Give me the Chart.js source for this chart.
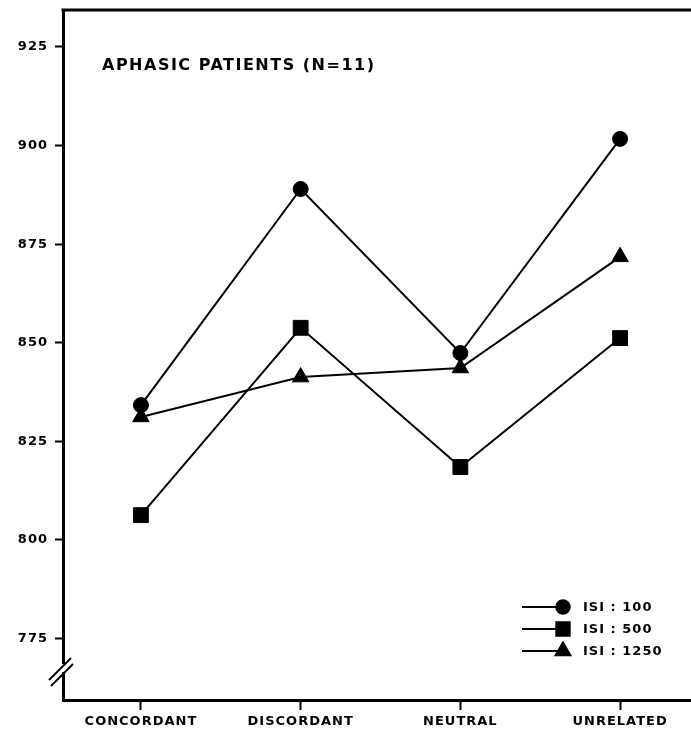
<!DOCTYPE html>
<html>
<head>
<meta charset="utf-8">
<script src="https://cdn.jsdelivr.net/npm/chart.js@4/dist/chart.umd.min.js"></script>
<style>
  html, body { margin: 0; padding: 0; background: #fff; }
  #wrap { width: 691px; height: 738px; }
</style>
</head>
<body>
<div id="wrap"><canvas id="chart"></canvas></div>
<script>
// categories and series (reaction time, ms)
const CATEGORIES = ['CONCORDANT', 'DISCORDANT', 'NEUTRAL', 'UNRELATED'];
const ISI_100 = [834.2, 889, 847.4, 901.7];
const ISI_500 = [806.3, 853.8, 818.5, 851.2];
const ISI_1250 = [831.2, 841.3, 843.6, 871.8];
const Y_TICKS = [775, 800, 825, 850, 875, 900, 925];

const SERIES = [
    { label: 'ISI : 100', data: ISI_100, style: 'circle', radius: 7.5 },
    { label: 'ISI : 500', data: ISI_500, style: 'rect', radius: 10.5 },
    { label: 'ISI : 1250', data: ISI_1250, style: 'triangle', radius: 9.5 }
];

const FONT = 'DejaVu Sans';

/* ── extras: spacing, top rule, title, axis break, legend ── */
const extras = {
    id: 'extras',
    beforeUpdate(chart) { chart.ctx.letterSpacing = '1px'; },
    beforeDraw(chart) { chart.ctx.letterSpacing = '1px'; },
    afterDraw(chart) {
        const ctx = chart.ctx;
        const area = chart.chartArea;
        ctx.save();
        ctx.strokeStyle = '#000';
        ctx.fillStyle = '#000';

        // top border
        ctx.lineWidth = 3;
        ctx.beginPath();
        ctx.moveTo(area.left - 1.5, area.top);
        ctx.lineTo(chart.width, area.top);
        ctx.stroke();

        // title
        ctx.letterSpacing = '1.5px';
        ctx.font = `bold 16px "${FONT}"`;
        ctx.textBaseline = 'alphabetic';
        ctx.textAlign = 'left';
        ctx.fillText('APHASIC PATIENTS (N=11)', 102, 70);

        // axis break //
        ctx.lineWidth = 2;
        ctx.fillStyle = '#fff';
        ctx.fillRect(area.left - 3, 664, 6, 8);
        ctx.beginPath();
        ctx.moveTo(49, 680); ctx.lineTo(71, 658);
        ctx.moveTo(51, 686); ctx.lineTo(73, 664);
        ctx.stroke();

        // legend
        ctx.fillStyle = '#000';
        ctx.letterSpacing = '1px';
        ctx.font = `bold 13px "${FONT}"`;
        ctx.textBaseline = 'middle';
        SERIES.forEach((s, i) => {
            const y = 607 + i * 22;
            ctx.lineWidth = 2;
            ctx.beginPath();
            ctx.moveTo(522, y);
            ctx.lineTo(562, y);
            ctx.stroke();
            Chart.helpers.drawPoint(ctx, { pointStyle: s.style, radius: s.radius * 0.9, borderWidth: 1 }, 563, y);
            ctx.fill();
            ctx.fillText(s.label, 583, y + 1);
        });
        ctx.restore();
    }
};

new Chart(document.getElementById('chart'), {
    type: 'line',
    data: {
        datasets: SERIES.map(s => ({
            label: s.label,
            data: s.data.map((v, i) => ({ x: i, y: v })),
            borderColor: '#000',
            backgroundColor: '#000',
            borderWidth: 2,
            pointStyle: s.style,
            pointRadius: s.radius,
            pointBorderWidth: 1,
            pointBackgroundColor: '#000',
            pointBorderColor: '#000',
            tension: 0
        }))
    },
    options: {
        responsive: true,
        maintainAspectRatio: false,
        animation: false,
        layout: { autoPadding: false, padding: { top: 10, right: 0, bottom: 0, left: 0 } },
        plugins: {
            legend: { display: false },
            tooltip: { enabled: false }
        },
        scales: {
            x: {
                type: 'linear',
                min: -0.488,
                max: 3.444,
                afterBuildTicks: scale => { scale.ticks = CATEGORIES.map((c, i) => ({ value: i })); },
                afterFit: scale => {
                    scale.height = 38;
                    scale.paddingLeft = 0;
                    scale.paddingRight = 0;
                },
                ticks: {
                    color: '#000',
                    padding: 4,
                    maxRotation: 0,
                    autoSkip: false,
                    font: { family: FONT, size: 13, weight: 'bold' },
                    callback: v => CATEGORIES[v]
                },
                grid: { drawOnChartArea: false, drawTicks: true, tickLength: 10, tickWidth: 2, tickColor: '#000' },
                border: { display: true, color: '#000', width: 3 }
            },
            y: {
                min: 759.43,
                max: 934.38,
                afterBuildTicks: scale => { scale.ticks = Y_TICKS.map(v => ({ value: v })); },
                afterFit: scale => {
                    scale.width = 63;
                    scale.paddingTop = 0;
                    scale.paddingBottom = 0;
                },
                ticks: {
                    color: '#000',
                    padding: 7,
                    font: { family: FONT, size: 13, weight: 'bold' },
                    callback: v => String(v)
                },
                grid: { drawOnChartArea: false, drawTicks: true, tickLength: 8, tickWidth: 2, tickColor: '#000' },
                border: { display: true, color: '#000', width: 3 }
            }
        }
    },
    plugins: [extras]
});
</script>
</body>
</html>
